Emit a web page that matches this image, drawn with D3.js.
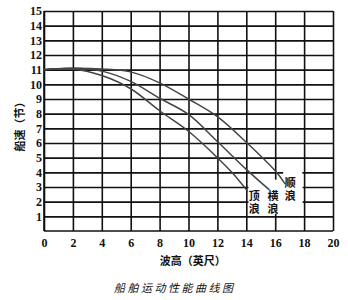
<!DOCTYPE html>
<html>
<head>
<meta charset="utf-8">
<script src="https://cdn.jsdelivr.net/npm/d3@7"></script>
<style>
  body { margin: 0; background: #fff; }
  .tick text { font-family: "Liberation Serif", "DejaVu Serif", serif; font-weight: bold; font-size: 12px; fill: #111; }
  .grid line, .grid path { stroke: #111; stroke-width: 1.6; }
  .cn { font-family: "Noto Sans CJK SC", sans-serif; fill: #111; }
</style>
</head>
<body>
<div class="chart"></div>
<script>
// wave height (ft) -> ship speed (knots)
var xTicks = [0, 2, 4, 6, 8, 10, 12, 14, 16, 18, 20];
var yTicks = [1, 2, 3, 4, 5, 6, 7, 8, 9, 10, 11, 12, 13, 14, 15];

var headSea = [[0, 11.0], [2, 11.05], [4, 10.6], [6, 9.7], [8, 8.2], [10, 6.8], [12, 5.0], [13, 4.0], [14.1, 2.7]];
var beamSea = [[0, 11.0], [2, 11.1], [4, 10.9], [6, 10.2], [8, 9.05], [10, 7.95], [12, 6.1], [14, 4.2], [15.6, 2.8]];
var followSea = [[0, 11.0], [2, 11.1], [4, 11.05], [6, 10.85], [8, 10.1], [10, 9.0], [12, 7.8], [14, 6.05], [16, 4.1], [16.7, 3.2]];

var seriesNames = ["顶浪", "横浪", "顺浪"];
var yTitle = "船速（节）";
var xTitle = "波高（英尺）";
var caption = "船舶运动性能曲线图";

var margin = {top: 11, right: 15, bottom: 69, left: 44},
    width = 348 - margin.left - margin.right,
    height = 300 - margin.top - margin.bottom;

var x = d3.scaleLinear().domain([0, 20]).range([0, width]);
var y = d3.scaleLinear().domain([0, 15]).range([height, 0]);

var svg = d3.select(".chart").append("svg")
    .attr("width", 348)
    .attr("height", 300)
  .append("g")
    .attr("transform", "translate(" + margin.left + "," + margin.top + ")");

// grid + tick labels
svg.append("g")
    .attr("class", "grid")
    .attr("transform", "translate(0," + height + ")")
    .call(d3.axisBottom(x).tickValues(xTicks).tickSize(-height).tickPadding(7))
    .call(function (g) { g.select(".domain").remove(); });

svg.append("g")
    .attr("class", "grid")
    .call(d3.axisLeft(y).tickValues(yTicks).tickSize(-width).tickPadding(2))
    .call(function (g) { g.select(".domain").remove(); });

svg.append("line")
    .attr("x1", 0).attr("x2", width)
    .attr("y1", y(0)).attr("y2", y(0))
    .style("stroke", "#111").style("stroke-width", 1.6);
svg.append("line")
    .attr("x1", 0).attr("x2", 0)
    .attr("y1", y(0)).attr("y2", y(15))
    .style("stroke", "#111").style("stroke-width", 1.6);

// white patches behind the curve labels (grid is blanked there)
var boxes = [[14.15, 3.3, 17.88, 1.2], [16.55, 4.35, 17.88, 1.2], [15.4, 3.5, 16.3, 1.2]];
boxes.forEach(function (b) {
  svg.append("rect")
    .attr("x", x(b[0])).attr("y", y(b[1]))
    .attr("width", x(b[2]) - x(b[0])).attr("height", y(b[3]) - y(b[1]))
    .style("fill", "#fff");
});

var line = d3.line()
  .x(function (d) { return x(d[0]); })
  .y(function (d) { return y(d[1]); })
  .curve(d3.curveCatmullRom.alpha(0.5));

[headSea, beamSea, followSea].forEach(function (s) {
  svg.append("path")
    .datum(s)
    .attr("d", line)
    .style("fill", "none")
    .style("stroke", "#444")
    .style("stroke-width", 1.5);
});

var labelAt = [[14.55, 2.75], [15.85, 2.75], [17.05, 3.65]];
seriesNames.forEach(function (name, i) {
  svg.append("text")
    .attr("class", "cn")
    .attr("x", x(labelAt[i][0]))
    .attr("y", y(labelAt[i][1]))
    .style("writing-mode", "vertical-rl")
    .style("font-size", "11px")
    .style("font-weight", "bold")
    .style("letter-spacing", "2px")
    .text(name);
});

svg.append("text")
    .attr("class", "cn")
    .attr("transform", "translate(-20," + y(7.3) + ") rotate(-90)")
    .attr("text-anchor", "middle")
    .style("font-size", "11px")
    .style("font-weight", "bold")
    .text(yTitle);

svg.append("text")
    .attr("class", "cn")
    .attr("x", x(10.3))
    .attr("y", height + 34)
    .attr("text-anchor", "middle")
    .style("font-size", "11px")
    .style("font-weight", "bold")
    .text(xTitle);

svg.append("text")
    .attr("class", "cn")
    .attr("x", x(9.05))
    .attr("y", height + 61)
    .attr("text-anchor", "middle")
    .style("font-size", "11px")
    .style("font-style", "italic")
    .style("letter-spacing", "2.5px")
    .text(caption);
</script>
</body>
</html>
